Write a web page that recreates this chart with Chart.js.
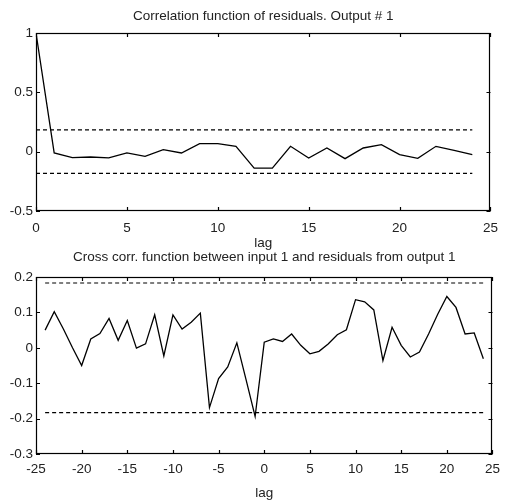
<!DOCTYPE html>
<html><head><meta charset="utf-8">
<script src="https://cdn.jsdelivr.net/npm/chart.js@4"></script>
<style>
html,body{margin:0;padding:0;background:#fff;width:507px;height:502px;overflow:hidden}
canvas{position:absolute;left:0}
#c1{top:0}
#c2{top:244px}
</style></head><body>
<canvas id="c1" width="507" height="256"></canvas>
<canvas id="c2" width="507" height="258"></canvas>
<script>
// ---- Data ----
const autoTitle = 'Correlation function of residuals. Output # 1';
const crossTitle = 'Cross corr. function between input 1 and residuals from output 1';
const xLabel = 'lag';

const autoLags = [0,1,2,3,4,5,6,7,8,9,10,11,12,13,14,15,16,17,18,19,20,21,22,23,24];
const autoCorr = [1.0,-0.011,-0.05,-0.045,-0.053,-0.011,-0.039,0.017,-0.011,0.067,0.067,0.045,-0.138,
                  -0.138,0.045,-0.053,0.031,-0.059,0.031,0.059,-0.025,-0.056,0.045,0.011,-0.025];
const autoConf = 0.183;

const crossLags = [-24,-23,-22,-21,-20,-19,-18,-17,-16,-15,-14,-13,-12,-11,-10,-9,-8,-7,-6,-5,-4,-3,-2,-1,
                   0,1,2,3,4,5,6,7,8,9,10,11,12,13,14,15,16,17,18,19,20,21,22,23,24];
const crossCorr = [0.050,0.102,0.053,0.000,-0.050,0.025,0.040,0.083,0.021,0.077,-0.001,0.011,0.093,-0.023,
                   0.093,0.053,0.072,0.098,-0.169,-0.087,-0.054,0.014,-0.089,-0.194,
                   0.016,0.025,0.018,0.039,0.007,-0.017,-0.010,0.011,0.037,0.051,0.136,0.130,0.107,
                   -0.036,0.058,0.007,-0.026,-0.012,0.039,0.095,0.145,0.114,0.039,0.042,-0.031];
const crossConf = 0.183;

// ---- Helpers ----
const FONT = {family: '"Liberation Sans", Arial, sans-serif', size: 13.5};
const TXT = '#222';

const framePlugin = {
  id: 'frame',
  afterDatasetsDraw(chart) {
    const {ctx, chartArea: a, scales} = chart;
    ctx.save();
    ctx.strokeStyle = '#000';
    ctx.lineWidth = 1.2;
    ctx.strokeRect(Math.round(a.left) + 0.5, Math.round(a.top) + 0.5,
                   Math.round(a.right - a.left) - 1, Math.round(a.bottom - a.top) - 1);
    const L = 4;
    ctx.beginPath();
    scales.x.ticks.forEach(t => {
      const p = Math.round(scales.x.getPixelForValue(t.value)) + 0.5;
      ctx.moveTo(p, a.bottom); ctx.lineTo(p, a.bottom - L);
      ctx.moveTo(p, a.top); ctx.lineTo(p, a.top + L);
    });
    scales.y.ticks.forEach(t => {
      const p = Math.round(scales.y.getPixelForValue(t.value)) + 0.5;
      ctx.moveTo(a.left, p); ctx.lineTo(a.left + L, p);
      ctx.moveTo(a.right, p); ctx.lineTo(a.right - L, p);
    });
    ctx.stroke();
    ctx.restore();
  }
};

function pts(xs, ys) { return xs.map((x, i) => ({x, y: ys[i]})); }
const fmt = (v) => String(Number(Number(v).toFixed(3)));

function makeChart(id, cfg) {
  const dashed = (y) => ({
    data: [{x: cfg.xs[0], y}, {x: cfg.xs[cfg.xs.length - 1], y}],
    borderColor: '#000', borderWidth: 1.2, borderDash: [4, 3], pointRadius: 0, fill: false
  });
  return new Chart(document.getElementById(id), {
    type: 'line',
    data: {
      datasets: [
        {data: pts(cfg.xs, cfg.ys), borderColor: '#000', borderWidth: 1.3, pointRadius: 0, fill: false, tension: 0},
        dashed(cfg.conf),
        dashed(-cfg.conf)
      ]
    },
    options: {
      responsive: false,
      animation: false,
      events: [],
      layout: {padding: {left: 0, right: 7, top: 0, bottom: 0}},
      plugins: {
        legend: {display: false},
        tooltip: {enabled: false},
        title: {display: true, fullSize: false, text: cfg.title, color: TXT, font: {...FONT, weight: 'normal'},
                padding: cfg.titlePad}
      },
      scales: {
        x: {
          type: 'linear', min: cfg.xmin, max: cfg.xmax,
          ticks: {stepSize: 5, color: TXT, font: FONT, padding: cfg.xTickPad, maxRotation: 0, callback: fmt},
          grid: {display: false, drawTicks: false},
          border: {display: false},
          title: {display: true, text: xLabel, color: TXT, font: FONT, padding: {top: 0, bottom: cfg.lagPad}},
          afterFit: (s) => { s.height = cfg.xAxisH; }
        },
        y: {
          min: cfg.ymin, max: cfg.ymax,
          ticks: {stepSize: cfg.ystep, color: TXT, font: FONT, padding: 3, callback: fmt},
          grid: {display: false, drawTicks: false},
          border: {display: false},
          afterFit: (s) => { s.width = 36; }
        }
      }
    },
    plugins: [framePlugin]
  });
}

makeChart('c1', {
  xs: autoLags, ys: autoCorr, conf: autoConf, title: autoTitle,
  xmin: 0, xmax: 25, ymin: -0.5, ymax: 1, ystep: 0.5,
  titlePad: {top: 8, bottom: 8.8}, xAxisH: 45, lagPad: 4.9, xTickPad: 9
});
makeChart('c2', {
  xs: crossLags, ys: crossCorr, conf: crossConf, title: crossTitle,
  xmin: -25, xmax: 25, ymin: -0.3, ymax: 0.2, ystep: 0.1,
  titlePad: {top: 5.4, bottom: 11.4}, xAxisH: 48, lagPad: 0.9, xTickPad: 7
});
</script>
</body></html>
